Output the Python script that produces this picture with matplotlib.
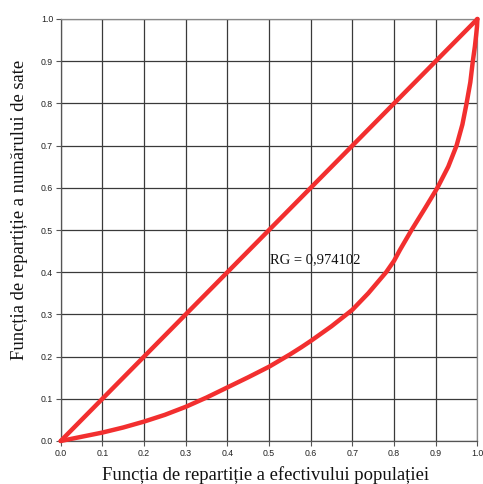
import matplotlib
matplotlib.use("Agg")
import matplotlib.pyplot as plt

# Lorenz curve points
lorenz_x = [0.0, 0.05, 0.1, 0.15, 0.2, 0.25, 0.3, 0.35, 0.4, 0.45, 0.5, 0.55, 0.578, 0.6,
            0.65, 0.686, 0.7, 0.738, 0.781, 0.8, 0.814, 0.842, 0.874, 0.904, 0.930,
            0.950, 0.964, 0.974, 0.983, 0.989, 0.994, 0.997, 0.999, 1.0]
lorenz_y = [0.0, 0.010, 0.020, 0.032, 0.046, 0.062, 0.081, 0.103, 0.127, 0.151, 0.176, 0.205, 0.2225, 0.237,
            0.272, 0.300, 0.311, 0.350, 0.400, 0.427, 0.4526, 0.500, 0.551, 0.600, 0.650,
            0.700, 0.750, 0.800, 0.850, 0.900, 0.935, 0.962, 0.982, 1.0]
equal_x = [0.0, 1.0]
equal_y = [0.0, 1.0]
ticks = [round(0.1 * i, 1) for i in range(11)]
tick_labels = [f"{t:.1f}" for t in ticks]
rg_text = "RG = 0,974102"
xlabel = "Funcția de repartiție a efectivului populației"
ylabel = "Funcția de repartiție a numărului de sate"

W, H = 483, 484
fig = plt.figure(figsize=(W / 100, H / 100), dpi=100)
ax = fig.add_axes([60.7 / W, 1 - 441 / H, 416.7 / W, 422 / H])

red = "#f22f2f"
ax.plot(equal_x, equal_y, color=red, lw=3.2, solid_capstyle="round", solid_joinstyle="round", zorder=3, clip_on=False)
ax.plot(lorenz_x, lorenz_y, color=red, lw=3.2, solid_capstyle="round", solid_joinstyle="round", zorder=3, clip_on=False)

ax.set_xlim(0, 1)
ax.set_ylim(0, 1)
ax.set_xticks(ticks)
ax.set_yticks(ticks)
ax.set_xticklabels(tick_labels, fontsize=6.3, family="Liberation Sans", color="#222222")
ax.set_yticklabels(tick_labels, fontsize=6.3, family="Liberation Sans", color="#222222")
ax.tick_params(length=3.5, width=0.8, color="#555555", pad=2)
ax.grid(True, color="#3a3a3a", lw=0.9)
ax.set_axisbelow(True)
for s in ["top", "right"]:
    ax.spines[s].set_color("#888888")
    ax.spines[s].set_linewidth(0.9)
for s in ["left", "bottom"]:
    ax.spines[s].set_color("#555555")
    ax.spines[s].set_linewidth(0.9)

ax.text(0.503, 0.422, rg_text, family="Liberation Serif", fontsize=10.5, color="#111111", zorder=4)

fig.text(265.5 / W, 4.5 / H, xlabel, family="Liberation Serif", fontsize=13.4,
         ha="center", va="baseline", color="#111111")
fig.text(20 / W, 1 - 210 / H, ylabel, family="Liberation Serif", fontsize=13.4,
         ha="center", va="center", rotation=90, color="#111111")

fig.savefig("out.png", dpi=100)
